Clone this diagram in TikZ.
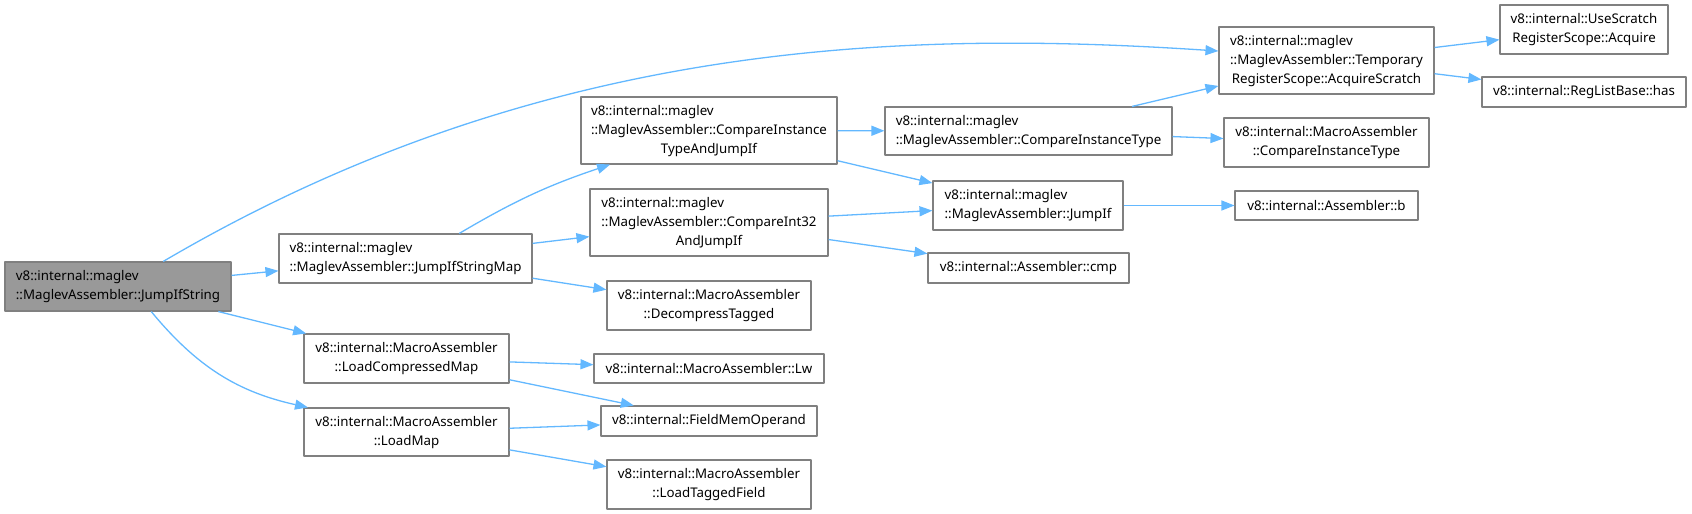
\documentclass[tikz,border=0pt]{standalone}
\usepackage{fontspec}
\setmainfont{Noto Sans}
\usetikzlibrary{arrows.meta}
\definecolor{edgeblue}{HTML}{63B8FF}
\definecolor{boxgray}{HTML}{808080}
\definecolor{rootgray}{HTML}{999999}

\begin{document}
\begin{tikzpicture}[x=1pt, y=-1pt, line join=round,
  fn/.style={draw=boxgray, line width=1.1pt, fill=white, inner sep=0pt,
    font=\fontsize{13.3}{19}\selectfont},
  root/.style={fn, fill=rootgray},
  call/.style={draw=edgeblue, line width=1.3pt, -{Triangle[length=13pt,width=10pt]}}]

  %% ════ 节点（中心 + 框尺寸）════
  \node[root, minimum width=226pt, minimum height=49pt] (jis) at (118,286.5)
    {\begin{tabular}{@{}l@{}}v8::internal::maglev\\::MaglevAssembler::JumpIfString\end{tabular}};
  \node[fn, minimum width=253pt, minimum height=49pt] (jism) at (405.5,258.5)
    {\begin{tabular}{@{}l@{}}v8::internal::maglev\\::MaglevAssembler::JumpIfStringMap\end{tabular}};
  \node[fn, minimum width=205pt, minimum height=49pt] (lcm) at (406.5,358.5)
    {\begin{tabular}{@{}c@{}}v8::internal::MacroAssembler\\::LoadCompressedMap\end{tabular}};
  \node[fn, minimum width=205pt, minimum height=48pt] (lmap) at (406.5,432)
    {\begin{tabular}{@{}c@{}}v8::internal::MacroAssembler\\::LoadMap\end{tabular}};

  \node[fn, minimum width=256pt, minimum height=67pt] (citaji) at (709,130.5)
    {\begin{tabular}{@{}l@{}}v8::internal::maglev\\::MaglevAssembler::CompareInstance\\\multicolumn{1}{@{}c@{}}{TypeAndJumpIf}\end{tabular}};
  \node[fn, minimum width=238pt, minimum height=67pt] (ci32) at (709,222.5)
    {\begin{tabular}{@{}l@{}}v8::internal::maglev\\::MaglevAssembler::CompareInt32\\\multicolumn{1}{@{}c@{}}{AndJumpIf}\end{tabular}};
  \node[fn, minimum width=204pt, minimum height=49pt] (dect) at (709,305.5)
    {\begin{tabular}{@{}c@{}}v8::internal::MacroAssembler\\::DecompressTagged\end{tabular}};
  \node[fn, minimum width=230pt, minimum height=29pt] (lw) at (709,368.5)
    {v8::internal::MacroAssembler::Lw};
  \node[fn, minimum width=216pt, minimum height=30pt] (fmo) at (709,421)
    {v8::internal::FieldMemOperand};
  \node[fn, minimum width=204pt, minimum height=49pt] (ltf) at (709,484.5)
    {\begin{tabular}{@{}c@{}}v8::internal::MacroAssembler\\::LoadTaggedField\end{tabular}};

  \node[fn, minimum width=287pt, minimum height=48pt] (cit) at (1028.5,131)
    {\begin{tabular}{@{}l@{}}v8::internal::maglev\\::MaglevAssembler::CompareInstanceType\end{tabular}};
  \node[fn, minimum width=190pt, minimum height=49pt] (jif) at (1028,205.5)
    {\begin{tabular}{@{}l@{}}v8::internal::maglev\\::MaglevAssembler::JumpIf\end{tabular}};
  \node[fn, minimum width=201pt, minimum height=30pt] (cmp) at (1028.5,268)
    {v8::internal::Assembler::cmp};

  \node[fn, minimum width=215pt, minimum height=67pt] (acq) at (1326.5,60.5)
    {\begin{tabular}{@{}l@{}}v8::internal::maglev\\::MaglevAssembler::Temporary\\\multicolumn{1}{@{}c@{}}{RegisterScope::AcquireScratch}\end{tabular}};
  \node[fn, minimum width=205pt, minimum height=49pt] (mcit) at (1326.5,142.5)
    {\begin{tabular}{@{}c@{}}v8::internal::MacroAssembler\\::CompareInstanceType\end{tabular}};
  \node[fn, minimum width=183pt, minimum height=29pt] (asmb) at (1326.5,205.5)
    {v8::internal::Assembler::b};

  \node[fn, minimum width=168pt, minimum height=49pt] (usr) at (1584,29.5)
    {\begin{tabular}{@{}c@{}}v8::internal::UseScratch\\RegisterScope::Acquire\end{tabular}};
  \node[fn, minimum width=204pt, minimum height=30pt] (has) at (1584,92)
    {v8::internal::RegListBase::has};

  %% ════ 调用边 ════
  \draw[call] (jis.29) .. controls (540,40) and (900,30) .. (acq.175);
  \draw[call] (jis) -- (jism);
  \draw[call] (jis) -- (lcm);
  \draw[call] (jis.-37) to[bend right=19] (lmap.166);

  \draw[call] (jism.25) to[bend left=6] (citaji.199);
  \draw[call] (jism) -- (ci32);
  \draw[call] (jism) -- (dect);

  \draw[call] (citaji) -- (cit);
  \draw[call] (citaji) -- (jif);
  \draw[call] (ci32) -- (jif);
  \draw[call] (ci32) -- (cmp);

  \draw[call] (cit) -- (acq);
  \draw[call] (cit) -- (mcit);
  \draw[call] (jif) -- (asmb);

  \draw[call] (acq) -- (usr);
  \draw[call] (acq) -- (has);

  \draw[call] (lcm) -- (lw);
  \draw[call] (lcm) -- (fmo);
  \draw[call] (lmap) -- (fmo);
  \draw[call] (lmap) -- (ltf);

  % 钉死画布
  \pgfresetboundingbox
  \path[use as bounding box] (0,0) rectangle (1692,514);
\end{tikzpicture}
\end{document}
